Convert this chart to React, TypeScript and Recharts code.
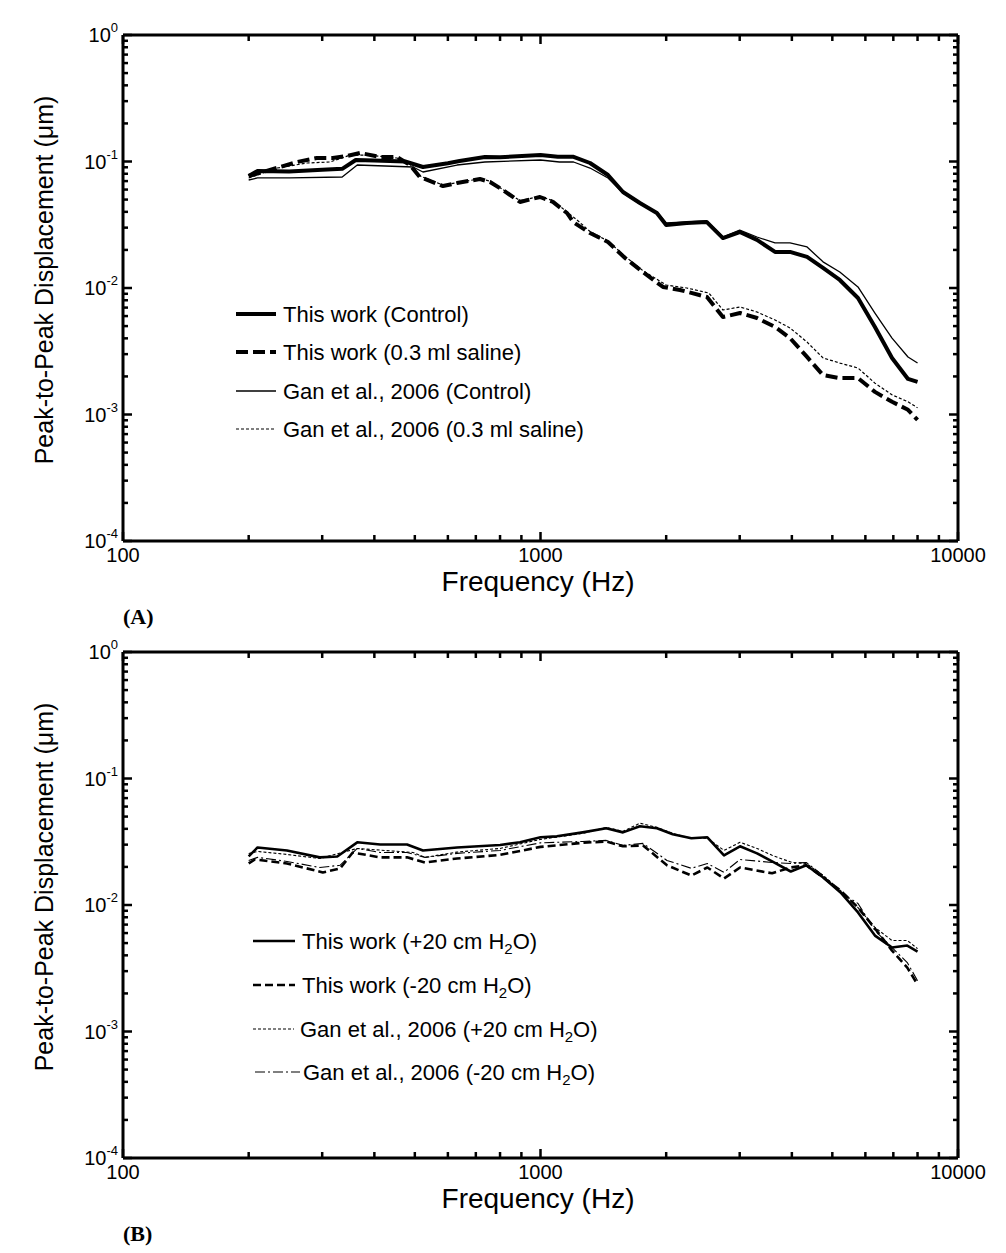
import { LineChart, Line, XAxis, YAxis } from 'recharts';

const FONT = '"Liberation Sans", Arial, Helvetica, sans-serif';

// axis ticks (decade + minor marks)
const xTicks = [100, 200, 300, 400, 500, 600, 700, 800, 900, 1000, 2000, 3000, 4000, 5000, 6000, 7000, 8000, 9000, 10000];
const yTicks = [
  0.0001, 0.0002, 0.0003, 0.0004, 0.0005, 0.0006, 0.0007, 0.0008, 0.0009,
  0.001, 0.002, 0.003, 0.004, 0.005, 0.006, 0.007, 0.008, 0.009,
  0.01, 0.02, 0.03, 0.04, 0.05, 0.06, 0.07, 0.08, 0.09,
  0.1, 0.2, 0.3, 0.4, 0.5, 0.6, 0.7, 0.8, 0.9, 1,
];

// ---- panel A: control vs 0.3 ml saline ----
const aThisCtrlF = [200, 210, 250, 300, 335, 361, 400, 474, 523, 600, 640, 736, 800, 1000, 1100, 1200, 1314, 1451, 1576, 1730, 1900, 2000, 2240, 2500, 2735, 3000, 3300, 3645, 3960, 4350, 4750, 5210, 5760, 6325, 6950, 7590, 8000];
const aThisCtrlV = [0.0768, 0.0841, 0.0835, 0.086, 0.0875, 0.1028, 0.102, 0.1, 0.0905, 0.097, 0.101, 0.1085, 0.108, 0.1125, 0.109, 0.109, 0.0973, 0.0782, 0.0574, 0.047, 0.0392, 0.0315, 0.0327, 0.0333, 0.0248, 0.0277, 0.024, 0.0193, 0.0193, 0.0176, 0.0144, 0.01157, 0.00833, 0.00492, 0.0028, 0.00191, 0.00181];

const aThisSalF = [200, 238, 261, 291, 318, 344, 370, 413, 453, 487, 514, 584, 631, 716, 757, 813, 893, 997, 1071, 1157, 1200, 1314, 1451, 1594, 1760, 1965, 2158, 2505, 2735, 3005, 3301, 3645, 3960, 4349, 4750, 5212, 5761, 6325, 6950, 7590, 8000];
const aThisSalV = [0.0768, 0.0905, 0.0991, 0.1066, 0.1066, 0.1105, 0.1168, 0.1085, 0.1085, 0.0938, 0.0754, 0.064, 0.0676, 0.0727, 0.0689, 0.0595, 0.0479, 0.0524, 0.0479, 0.0392, 0.033, 0.0272, 0.0231, 0.01727, 0.01337, 0.01019, 0.00965, 0.00849, 0.0059, 0.00634, 0.00579, 0.00492, 0.00402, 0.00285, 0.00205, 0.00194, 0.00194, 0.00151, 0.00126, 0.00109, 0.000905];

const aGanCtrlF = [200, 210, 251, 335, 364, 495, 523, 631, 736, 1000, 1110, 1200, 1314, 1451, 1576, 1730, 1900, 2000, 2240, 2500, 2735, 3000, 3300, 3645, 3960, 4350, 4750, 5210, 5760, 6325, 6950, 7590, 8000];
const aGanCtrlV = [0.0714, 0.0741, 0.0741, 0.0754, 0.0938, 0.0905, 0.0826, 0.0938, 0.0991, 0.1028, 0.0991, 0.0991, 0.0888, 0.0741, 0.0564, 0.0462, 0.0399, 0.0327, 0.0333, 0.0339, 0.0253, 0.0287, 0.0253, 0.0227, 0.0227, 0.0211, 0.0161, 0.01337, 0.01019, 0.00634, 0.00402, 0.00285, 0.00255];

const aGanSalF = [200, 234, 276, 313, 350, 384, 453, 487, 514, 584, 631, 716, 757, 813, 893, 997, 1071, 1157, 1229, 1314, 1451, 1594, 1760, 2000, 2240, 2530, 2735, 3005, 3301, 3645, 3960, 4349, 4750, 5212, 5761, 6325, 6950, 7590, 8000];
const aGanSalV = [0.0741, 0.0888, 0.0973, 0.0991, 0.1125, 0.1125, 0.1066, 0.095, 0.077, 0.065, 0.068, 0.073, 0.07, 0.06, 0.049, 0.053, 0.049, 0.04, 0.034, 0.028, 0.0235, 0.0178, 0.0137, 0.01056, 0.01, 0.00913, 0.0067, 0.00708, 0.00646, 0.00559, 0.00483, 0.00374, 0.0028, 0.00255, 0.00233, 0.00177, 0.00143, 0.00126, 0.00113];

// ---- panel B: +20 / -20 cm H2O ----
const bThisPlusF = [200, 210, 247, 296, 326, 364, 413, 479, 523, 631, 800, 893, 1000, 1094, 1262, 1437, 1576, 1730, 1901, 2074, 2298, 2510, 2751, 3005, 3301, 3587, 3976, 4330, 4756, 5232, 5761, 6325, 6950, 7560, 8000];
const bThisPlusV = [0.0242, 0.0285, 0.027, 0.0238, 0.0242, 0.0313, 0.0301, 0.0301, 0.027, 0.0285, 0.0298, 0.0313, 0.0343, 0.0349, 0.0375, 0.0404, 0.0375, 0.0419, 0.0404, 0.0362, 0.0337, 0.0343, 0.0247, 0.0291, 0.0256, 0.0221, 0.0184, 0.0206, 0.0165, 0.01257, 0.00873, 0.00573, 0.00461, 0.00478, 0.00428];

const bThisMinusF = [200, 207, 247, 301, 331, 355, 413, 479, 529, 631, 800, 1000, 1262, 1437, 1576, 1760, 2009, 2298, 2510, 2751, 3005, 3587, 3976, 4330, 4756, 5232, 5761, 6325, 6950, 7560, 8000];
const bThisMinusV = [0.0213, 0.0229, 0.0213, 0.0181, 0.0194, 0.026, 0.0238, 0.0238, 0.0217, 0.0233, 0.0249, 0.0288, 0.031, 0.0318, 0.0291, 0.0296, 0.0206, 0.0171, 0.0198, 0.0162, 0.0198, 0.0178, 0.0198, 0.0206, 0.0165, 0.013, 0.00955, 0.00652, 0.00436, 0.0032, 0.00235];

const bGanPlusF = [200, 210, 247, 296, 364, 495, 529, 631, 800, 1000, 1262, 1437, 1576, 1730, 1901, 2074, 2298, 2510, 2751, 3005, 3301, 3587, 4000, 4330, 4756, 5232, 5761, 6325, 6950, 7560, 8000];
const bGanPlusV = [0.0255, 0.0265, 0.0251, 0.0233, 0.028, 0.026, 0.0238, 0.0262, 0.028, 0.033, 0.0368, 0.0411, 0.0382, 0.0443, 0.0411, 0.0368, 0.0337, 0.0337, 0.027, 0.0313, 0.028, 0.0247, 0.0217, 0.0213, 0.0171, 0.013, 0.00955, 0.00664, 0.00524, 0.00524, 0.00452];

const bGanMinusF = [200, 210, 247, 296, 331, 364, 413, 479, 529, 631, 800, 1000, 1262, 1437, 1576, 1760, 2009, 2298, 2510, 2751, 3005, 3587, 3976, 4330, 4756, 5232, 5761, 6325, 6950, 7560, 8000];
const bGanMinusV = [0.0225, 0.0238, 0.0221, 0.0198, 0.0206, 0.028, 0.026, 0.026, 0.0238, 0.0256, 0.027, 0.031, 0.0318, 0.0324, 0.0296, 0.0307, 0.0225, 0.0195, 0.0213, 0.0181, 0.0229, 0.0217, 0.0213, 0.0217, 0.0171, 0.01257, 0.01028, 0.00628, 0.00461, 0.00351, 0.00252];

const zip = (f: number[], v: number[]) => f.map((x, i) => ({ f: x, v: v[i] }));

interface Series {
  name: string;
  data: { f: number; v: number }[];
  width: number;
  dash?: string;
}

const seriesA: Series[] = [
  { name: 'This work (Control)', data: zip(aThisCtrlF, aThisCtrlV), width: 4 },
  { name: 'This work (0.3 ml saline)', data: zip(aThisSalF, aThisSalV), width: 4, dash: '12 5' },
  { name: 'Gan et al., 2006 (Control)', data: zip(aGanCtrlF, aGanCtrlV), width: 1.3 },
  { name: 'Gan et al., 2006 (0.3 ml saline)', data: zip(aGanSalF, aGanSalV), width: 1.2, dash: '3 2' },
];

const seriesB: Series[] = [
  { name: 'This work (+20 cm H2O)', data: zip(bThisPlusF, bThisPlusV), width: 2.6 },
  { name: 'This work (-20 cm H2O)', data: zip(bThisMinusF, bThisMinusV), width: 2.6, dash: '8 4' },
  { name: 'Gan et al., 2006 (+20 cm H2O)', data: zip(bGanPlusF, bGanPlusV), width: 1.1, dash: '3 2' },
  { name: 'Gan et al., 2006 (-20 cm H2O)', data: zip(bGanMinusF, bGanMinusV), width: 1.1, dash: '10 3 2 3' },
];

const isDecade = (v: number) => Math.abs(Math.log10(v) - Math.round(Math.log10(v))) < 1e-6;

function BottomTick({ x, y, payload }: any) {
  const v = payload.value;
  const major = isDecade(v);
  return (
    <g>
      <line x1={x} x2={x} y1={y} y2={y - (major ? 9 : 6)} stroke="#000" strokeWidth={2.5} />
      {major && (
        <text x={x} y={y + 21} textAnchor="middle" fontSize={20} fontFamily={FONT} fill="#000">
          {v}
        </text>
      )}
    </g>
  );
}

function TopTick({ x, y, payload }: any) {
  const major = isDecade(payload.value);
  return <line x1={x} x2={x} y1={y} y2={y + (major ? 9 : 6)} stroke="#000" strokeWidth={2.5} />;
}

function LeftTick({ x, y, payload }: any) {
  const v = payload.value;
  const major = isDecade(v);
  return (
    <g>
      <line x1={x} x2={x + (major ? 9 : 5)} y1={y} y2={y} stroke="#000" strokeWidth={2.5} />
      {major && (
        <text x={x - 5} y={y + 7} textAnchor="end" fontFamily={FONT} fill="#000">
          <tspan fontSize={20}>10</tspan>
          <tspan fontSize={13} dy={-10}>
            {Math.round(Math.log10(v))}
          </tspan>
        </text>
      )}
    </g>
  );
}

function RightTick({ x, y, payload }: any) {
  const major = isDecade(payload.value);
  return <line x1={x} x2={x - (major ? 9 : 5)} y1={y} y2={y} stroke="#000" strokeWidth={2.5} />;
}

function XTitle({ letter, top }: { letter: string; top: number }) {
  return (
    <g>
      <text x={538} y={top + 50} textAnchor="middle" fontSize={28} fontFamily={FONT} fill="#000">
        Frequency (Hz)
      </text>
      <text x={123} y={top + 83} fontSize={22} fontWeight="bold" fontFamily='"Liberation Serif", "Times New Roman", serif' fill="#000">
        {letter}
      </text>
    </g>
  );
}

function YTitle({ cy }: { cy: number }) {
  return (
    <text
      x={53}
      y={cy}
      transform={`rotate(-90 53 ${cy})`}
      textAnchor="middle"
      fontSize={25}
      fontFamily={FONT}
      fill="#000"
    >
      Peak-to-Peak Displacement (μm)
    </text>
  );
}

interface LegendRow {
  label: string;
  sub?: boolean;
  y: number;
  x1: number;
  x2: number;
  tx: number;
}

function LegendSample({ s, row }: { s: Series; row: LegendRow }) {
  const parts = row.sub ? row.label.split('H2O') : [row.label];
  return (
    <g>
      <line x1={row.x1} x2={row.x2} y1={row.y} y2={row.y} stroke="#000" strokeWidth={s.width} strokeDasharray={s.dash} />
      <text x={row.tx} y={row.y + 8} fontSize={22} fontFamily={FONT} fill="#000">
        {row.sub ? (
          <>
            {parts[0]}H<tspan fontSize={15} dy={5}>2</tspan>
            <tspan dy={-5}>O{parts[1]}</tspan>
          </>
        ) : (
          row.label
        )}
      </text>
    </g>
  );
}

const legendA: LegendRow[] = [
  { label: 'This work (Control)', y: 314, x1: 236, x2: 276, tx: 283 },
  { label: 'This work (0.3 ml saline)', y: 352, x1: 236, x2: 276, tx: 283 },
  { label: 'Gan et al., 2006 (Control)', y: 391, x1: 236, x2: 276, tx: 283 },
  { label: 'Gan et al., 2006 (0.3 ml saline)', y: 429, x1: 236, x2: 276, tx: 283 },
];

const legendB: LegendRow[] = [
  { label: 'This work (+20 cm H2O)', sub: true, y: 324, x1: 253, x2: 295, tx: 302 },
  { label: 'This work (-20 cm H2O)', sub: true, y: 368, x1: 253, x2: 295, tx: 302 },
  { label: 'Gan et al., 2006 (+20 cm H2O)', sub: true, y: 412, x1: 253, x2: 294, tx: 300 },
  { label: 'Gan et al., 2006 (-20 cm H2O)', sub: true, y: 455, x1: 255, x2: 300, tx: 303 },
];

const W = 1006;
const PLOT_TOP = 35;
const PLOT_BOTTOM = 541;
const PLOT_RIGHT = 958;

function Panel({ series, legend, top, height, letter, yCenter }: {
  series: Series[];
  legend: LegendRow[];
  top: number;
  height: number;
  letter: string;
  yCenter: number;
}) {
  const axisLine = { stroke: '#000', strokeWidth: 3 };
  return (
    <div style={{ position: 'absolute', left: 0, top, width: W, height }}>
      <LineChart
        width={W}
        height={height}
        margin={{ top: PLOT_TOP - 5, right: W - PLOT_RIGHT - 10, left: 0, bottom: height - PLOT_BOTTOM - 30 }}
      >
        <XAxis
          dataKey="f"
          type="number"
          scale="log"
          domain={[100, 10000]}
          allowDataOverflow
          ticks={xTicks}
          interval={0}
          height={30}
          tickSize={0}
          tickMargin={0}
          axisLine={axisLine}
          tick={<BottomTick />}
          label={<XTitle letter={letter} top={PLOT_BOTTOM} />}
        />
        <XAxis
          xAxisId="top"
          orientation="top"
          dataKey="f"
          type="number"
          scale="log"
          domain={[100, 10000]}
          allowDataOverflow
          ticks={xTicks}
          interval={0}
          height={5}
          tickSize={0}
          tickMargin={0}
          axisLine={axisLine}
          tick={<TopTick />}
        />
        <YAxis
          type="number"
          scale="log"
          domain={[0.0001, 1]}
          allowDataOverflow
          ticks={yTicks}
          interval={0}
          width={123}
          tickSize={0}
          tickMargin={0}
          axisLine={axisLine}
          tick={<LeftTick />}
          label={<YTitle cy={yCenter} />}
        />
        <YAxis
          yAxisId="right"
          orientation="right"
          type="number"
          scale="log"
          domain={[0.0001, 1]}
          allowDataOverflow
          ticks={yTicks}
          interval={0}
          width={10}
          tickSize={0}
          tickMargin={0}
          axisLine={axisLine}
          tick={<RightTick />}
        />
        {series.map((s) => (
          <Line
            key={s.name}
            name={s.name}
            data={s.data}
            dataKey="v"
            type="linear"
            stroke="#000"
            strokeWidth={s.width}
            strokeDasharray={s.dash}
            strokeLinejoin="round"
            dot={false}
            activeDot={false}
            isAnimationActive={false}
          />
        ))}
      </LineChart>
      <svg
        width={W}
        height={height}
        style={{ position: 'absolute', left: 0, top: 0, pointerEvents: 'none' }}
      >
        {legend.map((row, i) => (
          <LegendSample key={row.label} s={series[i]} row={row} />
        ))}
      </svg>
    </div>
  );
}

export default function App() {
  return (
    <div style={{ position: 'absolute', left: 0, top: 0, width: W, height: 1253, background: '#fff' }}>
      <Panel series={seriesA} legend={legendA} top={0} height={640} letter="(A)" yCenter={280} />
      <Panel series={seriesB} legend={legendB} top={617} height={636} letter="(B)" yCenter={270} />
    </div>
  );
}
